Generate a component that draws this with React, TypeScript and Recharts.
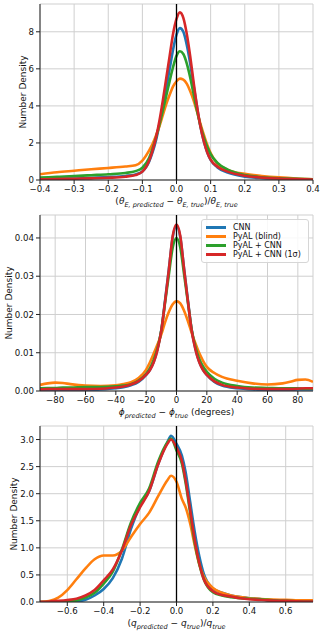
import React from 'react'
import { LineChart, Line, XAxis, YAxis, CartesianGrid, ReferenceLine, Legend } from 'recharts'

// series shared by all three panels
const SERIES_NAMES = ['CNN', 'PyAL (blind)', 'PyAL + CNN', 'PyAL + CNN (1σ)']
const SERIES_COLORS = ['#1f77b4', '#ff7f0e', '#2ca02c', '#d62728']

// panel 1: relative Einstein radius error
const thetaX = [-0.4, -0.35, -0.3, -0.25, -0.2, -0.15, -0.12, -0.1, -0.08, -0.07, -0.06, -0.05, -0.04, -0.03, -0.02, -0.01, 0, 0.01, 0.02, 0.03, 0.04, 0.05, 0.06, 0.07, 0.08, 0.09, 0.1, 0.12, 0.15, 0.2, 0.25, 0.3, 0.35, 0.4]
const thetaCnn = [0.06, 0.07, 0.08, 0.12, 0.16, 0.22, 0.3, 0.46, 1.0, 1.5, 2.15, 3.0, 3.95, 4.95, 6.0, 7.05, 7.85, 8.2, 8.0, 7.3, 6.3, 5.1, 3.95, 2.9, 2.1, 1.5, 1.08, 0.68, 0.4, 0.18, 0.1, 0.07, 0.04, 0.02]
const thetaPyal = [0.31, 0.42, 0.5, 0.58, 0.65, 0.73, 0.8, 1.05, 1.6, 1.95, 2.4, 2.9, 3.5, 4.1, 4.6, 5.05, 5.33, 5.47, 5.42, 5.2, 4.8, 4.3, 3.7, 3.05, 2.45, 1.9, 1.45, 0.88, 0.55, 0.33, 0.22, 0.14, 0.08, 0.04]
const thetaPyalCnn = [0.13, 0.17, 0.21, 0.26, 0.31, 0.38, 0.48, 0.66, 1.2, 1.7, 2.3, 3.0, 3.75, 4.55, 5.35, 6.1, 6.7, 6.95, 6.8, 6.3, 5.55, 4.65, 3.75, 2.95, 2.3, 1.8, 1.4, 0.92, 0.56, 0.27, 0.15, 0.09, 0.06, 0.04]
const thetaPyalCnn1s = [0.04, 0.05, 0.07, 0.09, 0.12, 0.18, 0.27, 0.45, 1.05, 1.6, 2.3, 3.2, 4.3, 5.5, 6.7, 7.9, 8.7, 9.05, 8.75, 7.9, 6.7, 5.3, 4.0, 2.9, 2.1, 1.5, 1.1, 0.72, 0.45, 0.23, 0.13, 0.08, 0.05, 0.03]
const thetaXTicks = [-0.4, -0.3, -0.2, -0.1, 0, 0.1, 0.2, 0.3, 0.4]
const thetaYTicks = [0, 2, 4, 6, 8]

// panel 2: position angle error (degrees)
const phiX = [-90, -85, -80, -75, -70, -60, -50, -40, -35, -30, -25, -20, -17.5, -15, -12.5, -10, -7.5, -5, -2.5, 0, 2.5, 5, 7.5, 10, 12.5, 15, 17.5, 20, 25, 30, 40, 50, 60, 70, 75, 80, 85, 90]
const phiCnn = [0.0003, 0.0003, 0.0003, 0.0003, 0.0003, 0.0003, 0.0004, 0.0007, 0.001, 0.0015, 0.0024, 0.0042, 0.0055, 0.0076, 0.011, 0.016, 0.0238, 0.032, 0.0402, 0.0432, 0.0402, 0.032, 0.0238, 0.016, 0.011, 0.0076, 0.0055, 0.0042, 0.0024, 0.0014, 0.0007, 0.0004, 0.0003, 0.0003, 0.0003, 0.0004, 0.0004, 0.0004]
const phiPyal = [0.0016, 0.002, 0.0022, 0.0021, 0.0018, 0.0014, 0.0013, 0.0015, 0.0018, 0.0023, 0.0034, 0.0056, 0.0075, 0.0098, 0.0122, 0.0148, 0.018, 0.0207, 0.0227, 0.0235, 0.0229, 0.021, 0.0183, 0.0152, 0.0124, 0.0099, 0.0079, 0.0063, 0.0047, 0.0037, 0.0027, 0.002, 0.0017, 0.002, 0.0024, 0.0029, 0.003, 0.0024]
const phiPyalCnn = [0.0007, 0.0008, 0.0008, 0.0009, 0.0009, 0.001, 0.001, 0.0012, 0.0014, 0.0018, 0.0027, 0.0045, 0.006, 0.0082, 0.0112, 0.0158, 0.0232, 0.0305, 0.0375, 0.04, 0.0375, 0.0305, 0.0232, 0.016, 0.0115, 0.0084, 0.0064, 0.005, 0.0032, 0.0022, 0.0013, 0.0009, 0.0008, 0.0007, 0.0007, 0.0007, 0.0006, 0.0006]
const phiPyalCnn1s = [0.0004, 0.0005, 0.0005, 0.0005, 0.0005, 0.0005, 0.0006, 0.0009, 0.0012, 0.0017, 0.0026, 0.0043, 0.0055, 0.0075, 0.0108, 0.0158, 0.0235, 0.0318, 0.0405, 0.0435, 0.0405, 0.0318, 0.0235, 0.0158, 0.0108, 0.0075, 0.0055, 0.0042, 0.0025, 0.0016, 0.0009, 0.0006, 0.0005, 0.0005, 0.0005, 0.0006, 0.0007, 0.0007]
const phiXTicks = [-80, -60, -40, -20, 0, 20, 40, 60, 80]
const phiYTicks = [0, 0.01, 0.02, 0.03, 0.04]

// panel 3: relative axis ratio error
const qX = [-0.75, -0.7, -0.65, -0.6, -0.55, -0.5, -0.45, -0.4, -0.35, -0.3, -0.25, -0.2, -0.15, -0.1, -0.05, -0.03, 0, 0.03, 0.05, 0.075, 0.1, 0.125, 0.15, 0.2, 0.25, 0.3, 0.35, 0.4, 0.45, 0.5, 0.6, 0.7, 0.75]
const qCnn = [0, 0, 0, 0.003, 0.01, 0.04, 0.12, 0.24, 0.44, 0.8, 1.35, 1.77, 2.05, 2.55, 2.95, 3.07, 2.92, 2.7, 2.4, 1.85, 1.3, 0.85, 0.52, 0.25, 0.17, 0.12, 0.09, 0.07, 0.06, 0.03, 0.01, 0.005, 0]
const qPyal = [0, 0.02, 0.08, 0.22, 0.42, 0.62, 0.79, 0.86, 0.86, 0.95, 1.2, 1.44, 1.65, 1.96, 2.25, 2.33, 2.22, 1.9, 1.75, 1.45, 1.05, 0.7, 0.47, 0.26, 0.17, 0.12, 0.09, 0.07, 0.06, 0.05, 0.04, 0.03, 0.03]
const qPyalCnn = [0, 0, 0.003, 0.01, 0.03, 0.08, 0.17, 0.34, 0.56, 0.97, 1.47, 1.83, 2.1, 2.6, 2.95, 3.02, 2.8, 2.55, 2.2, 1.65, 1.1, 0.7, 0.42, 0.18, 0.12, 0.09, 0.07, 0.06, 0.05, 0.04, 0.02, 0.01, 0.01]
const qPyalCnn1s = [0.005, 0.01, 0.02, 0.035, 0.06, 0.12, 0.22, 0.4, 0.6, 0.95, 1.42, 1.75, 2.05, 2.55, 2.92, 3.0, 2.85, 2.6, 2.25, 1.7, 1.15, 0.72, 0.42, 0.2, 0.13, 0.1, 0.07, 0.05, 0.04, 0.03, 0.02, 0.01, 0.01]
const qXTicks = [-0.6, -0.4, -0.2, 0, 0.2, 0.4, 0.6]
const qYTicks = [0, 0.5, 1.0, 1.5, 2.0, 2.5, 3.0]

type Part = { t: string; sub?: boolean; it?: boolean }

const thetaTitle: Part[] = [
  { t: '(' }, { t: 'θ', it: true }, { t: 'E, predicted', sub: true, it: true },
  { t: ' − ' }, { t: 'θ', it: true }, { t: 'E, true', sub: true, it: true },
  { t: ')/' }, { t: 'θ', it: true }, { t: 'E, true', sub: true, it: true },
]
const phiTitle: Part[] = [
  { t: 'ϕ', it: true }, { t: 'predicted', sub: true, it: true },
  { t: ' − ' }, { t: 'ϕ', it: true }, { t: 'true', sub: true, it: true },
  { t: ' (degrees)' },
]
const qTitle: Part[] = [
  { t: '(' }, { t: 'q', it: true }, { t: 'predicted', sub: true, it: true },
  { t: ' − ' }, { t: 'q', it: true }, { t: 'true', sub: true, it: true },
  { t: ')/' }, { t: 'q', it: true }, { t: 'true', sub: true, it: true },
]

const FONT = 'DejaVu Sans'
const minus = (s: string) => s.replace('-', '−')

function MathText({ x, y, parts }: { x: number; y: number; parts: Part[] }) {
  let level = 0
  return (
    <text x={x} y={y} textAnchor="middle" fontSize={9} fill="#111" fontFamily={FONT} style={{ whiteSpace: 'pre' }}>
      {parts.map((p, i) => {
        const target = p.sub ? 1 : 0
        const dy = target === level ? 0 : target ? 2.5 : -2.5
        level = target
        return (
          <tspan key={i} dy={dy} fontSize={p.sub ? 6.5 : 9} fontStyle={p.it ? 'italic' : 'normal'}>
            {p.t}
          </tspan>
        )
      })}
    </text>
  )
}

const renderLegend = () => (
  <div style={{
    border: '1px solid #d6d6d6', borderRadius: 3, background: 'rgba(255,255,255,0.85)',
    padding: '3px 4px', width: 98, fontSize: 8, lineHeight: '9px', fontFamily: FONT, color: '#111',
  }}>
    {SERIES_NAMES.map((n, i) => (
      <div key={n} style={{ display: 'flex', alignItems: 'center', height: 9 }}>
        <span style={{ display: 'inline-block', width: 20, height: 2.5, background: SERIES_COLORS[i], marginRight: 7 }} />
        <span>{n}</span>
      </div>
    ))}
  </div>
)

interface PanelProps {
  top: number
  xs: number[]
  series: number[][]
  xDomain: [number, number]
  xTicks: number[]
  yDomain: [number, number]
  yTicks: number[]
  fmtX: (v: number) => string
  fmtY: (v: number) => string
  xTitle: Part[]
  yTitleX: number
  legend?: boolean
}

function Panel({ top, xs, series, xDomain, xTicks, yDomain, yTicks, fmtX, fmtY, xTitle, yTitleX, legend }: PanelProps) {
  const data = xs.map((x, i) => {
    const row: Record<string, number> = { x }
    series.forEach((s, k) => { row['s' + k] = s[i] })
    return row
  })
  const tickStyle = { fill: '#111', fontSize: 8.6, fontFamily: FONT }

  return (
    <div style={{ position: 'absolute', left: 0, top }}>
      <LineChart width={325} height={211} data={data} margin={{ top: 4, right: 12, left: 0, bottom: 0 }}>
        <CartesianGrid stroke="#cfcfcf" strokeWidth={1} />
        <XAxis
          dataKey="x" type="number" domain={xDomain} ticks={xTicks} allowDataOverflow
          height={31} tickSize={4} tickMargin={2} stroke="#222" tick={tickStyle}
          tickFormatter={fmtX} interval={0}
          label={(p: any) => <MathText x={p.viewBox.x + p.viewBox.width / 2} y={p.viewBox.y + 24} parts={xTitle} />}
        />
        <XAxis xAxisId="top" orientation="top" type="number" domain={xDomain} height={0} tick={false} tickLine={false} stroke="#222" />
        <YAxis
          type="number" domain={yDomain} ticks={yTicks} allowDataOverflow width={40}
          tickSize={4} tickMargin={2} stroke="#222" tick={tickStyle} tickFormatter={fmtY} interval={0}
          label={(p: any) => {
            const cx = yTitleX
            const cy = p.viewBox.y + p.viewBox.height / 2
            return (
              <text x={cx} y={cy} transform={`rotate(-90, ${cx}, ${cy})`} textAnchor="middle" dominantBaseline="central" fontSize={9} fill="#111" fontFamily={FONT}>
                Number Density
              </text>
            )
          }}
        />
        <YAxis yAxisId="right" orientation="right" type="number" domain={yDomain} width={0} tick={false} tickLine={false} stroke="#222" />
        {series.map((_, k) => (
          <Line key={k} dataKey={'s' + k} type="monotone" stroke={SERIES_COLORS[k]} strokeWidth={2.6} dot={false} activeDot={false} isAnimationActive={false} />
        ))}
        <ReferenceLine x={0} stroke="#000" strokeWidth={1.3} />
        {legend && (
          <Legend layout="vertical" align="center" verticalAlign="middle" content={renderLegend}
            wrapperStyle={{ left: 201, top: 8, width: 108 }} />
        )}
      </LineChart>
    </div>
  )
}

export default function App() {
  return (
    <div style={{ position: 'absolute', left: 0, top: 0, width: 325, height: 633, background: '#fff', fontFamily: FONT }}>
      <Panel
        top={0} xs={thetaX} series={[thetaCnn, thetaPyal, thetaPyalCnn, thetaPyalCnn1s]}
        xDomain={[-0.4, 0.4]} xTicks={thetaXTicks} yDomain={[0, 9.5]} yTicks={thetaYTicks}
        fmtX={(v) => minus(v.toFixed(1))} fmtY={(v) => String(v)} xTitle={thetaTitle} yTitleX={22.5}
      />
      <Panel
        top={211} xs={phiX} series={[phiCnn, phiPyal, phiPyalCnn, phiPyalCnn1s]}
        xDomain={[-90, 90]} xTicks={phiXTicks} yDomain={[0, 0.046]} yTicks={phiYTicks}
        fmtX={(v) => minus(String(v))} fmtY={(v) => v.toFixed(2)} xTitle={phiTitle} yTitleX={8.5} legend
      />
      <Panel
        top={422} xs={qX} series={[qCnn, qPyal, qPyalCnn, qPyalCnn1s]}
        xDomain={[-0.75, 0.75]} xTicks={qXTicks} yDomain={[0, 3.25]} yTicks={qYTicks}
        fmtX={(v) => minus(v.toFixed(1))} fmtY={(v) => v.toFixed(1)} xTitle={qTitle} yTitleX={13.5}
      />
    </div>
  )
}
